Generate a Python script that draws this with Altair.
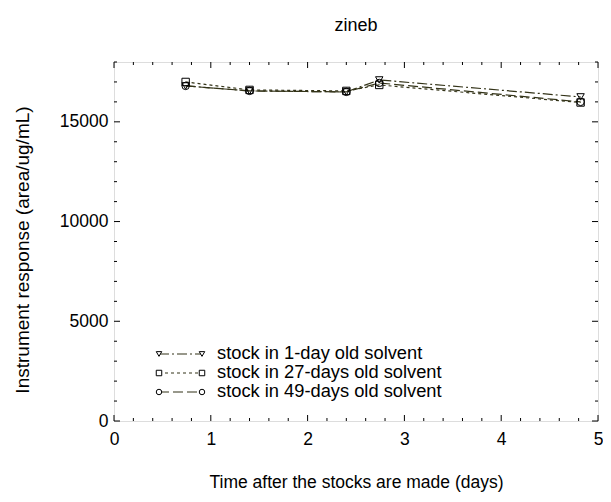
import altair as alt
import pandas as pd

# ---- data ----
days = [0.74, 1.40, 2.40, 2.74, 4.82]
series_names = ["stock in 1-day old solvent",
                "stock in 27-days old solvent",
                "stock in 49-days old solvent"]
resp_1day = [16800, 16550, 16500, 17100, 16250]
resp_27days = [17000, 16600, 16550, 16850, 15970]
resp_49days = [16800, 16550, 16500, 16950, 16000]

x_major = [0, 1, 2, 3, 4, 5]
y_major = [0, 5000, 10000, 15000]
title_text = ["zineb"]

# ---- layout / style ----
W, H = 484, 359
FONT = "Liberation Sans"
LINE_COLOR = "#333318"
dashes = {series_names[0]: [10, 3, 2, 3],
          series_names[1]: [3, 3],
          series_names[2]: [10, 4]}
shapes = {series_names[0]: "triangle-down",
          series_names[1]: "square",
          series_names[2]: "circle"}

rows = []
for name, vals in zip(series_names, [resp_1day, resp_27days, resp_49days]):
    for d, v in zip(days, vals):
        rows.append({"series": name, "day": d, "resp": v})
df = pd.DataFrame(rows)

xs = alt.Scale(domain=[0, 5], nice=False)
ys = alt.Scale(domain=[0, 18000], nice=False)

x_enc = alt.X("day:Q", scale=xs, axis=alt.Axis(
    values=x_major, format="d", ticks=False, domain=False, grid=False,
    labelFlush=False, labelOverlap=False,
    labelFont=FONT, labelFontSize=17.5, labelColor="black", labelPadding=9,
    title="Time after the stocks are made (days)", titleFont=FONT,
    titleFontSize=17.5, titleFontWeight="normal", titleColor="black",
    titleY=61, titleBaseline="middle"))
y_enc = alt.Y("resp:Q", scale=ys, axis=alt.Axis(
    values=y_major, format="d", ticks=False, domain=False, grid=False,
    labelFlush=False, labelOverlap=False,
    labelFont=FONT, labelFontSize=17.5, labelColor="black", labelPadding=6,
    title="Instrument response (area/ug/mL)", titleFont=FONT,
    titleFontSize=19, titleFontWeight="normal", titleColor="black",
    titleX=-92, titleY=H / 2 + 8, titleAngle=-90, titleBaseline="middle",
    titleAlign="center"))

sdash = alt.StrokeDash("series:N", scale=alt.Scale(
    domain=series_names, range=[dashes[n] for n in series_names]), legend=None)
sshape = alt.Shape("series:N", scale=alt.Scale(
    domain=series_names, range=[shapes[n] for n in series_names]), legend=None)

lines = alt.Chart(df).mark_line(color=LINE_COLOR, strokeWidth=1.2).encode(
    x=x_enc, y=y_enc, strokeDash=sdash, detail="series:N")
points = alt.Chart(df).mark_point(filled=False, color="black", size=55,
                                  strokeWidth=1, opacity=1).encode(
    x=alt.X("day:Q", scale=xs), y=alt.Y("resp:Q", scale=ys), shape=sshape)

# inward ticks on the frame
x_minor = [i / 5 for i in range(26) if i % 5 != 0]
y_minor = [i * 1000 for i in range(19) if i % 5 != 0]

def xticks(vals, length):
    d = pd.DataFrame({"t": vals})
    base = alt.Chart(d).mark_rule(color="black", strokeWidth=1)
    bot = base.encode(x=alt.X("t:Q", scale=xs), y=alt.value(H), y2=alt.value(H - length))
    top = base.encode(x=alt.X("t:Q", scale=xs), y=alt.value(0), y2=alt.value(length))
    return [bot, top]

def yticks(vals, length):
    d = pd.DataFrame({"t": vals})
    base = alt.Chart(d).mark_rule(color="black", strokeWidth=1)
    left = base.encode(y=alt.Y("t:Q", scale=ys), x=alt.value(0), x2=alt.value(length))
    right = base.encode(y=alt.Y("t:Q", scale=ys), x=alt.value(W), x2=alt.value(W - length))
    return [left, right]

tick_layers = xticks(x_major, 6) + xticks(x_minor, 3) + yticks(y_major, 6) + yticks(y_minor, 3)

# legend drawn inside the plot (lower left)
leg_layers = []
leg_x1, leg_x2, leg_tx = 45, 88, 103
leg_ys = [292, 311, 330]
for name, yy in zip(series_names, leg_ys):
    ld = pd.DataFrame({"label": [name]})
    leg_layers.append(alt.Chart(ld).mark_rule(color=LINE_COLOR, strokeWidth=1.2,
                                              strokeDash=dashes[name]).encode(
        x=alt.value(leg_x1), x2=alt.value(leg_x2), y=alt.value(yy)))
    for xx in (leg_x1, leg_x2):
        leg_layers.append(alt.Chart(ld).mark_point(
            filled=False, color="black", size=30, strokeWidth=1, opacity=1,
            shape=shapes[name], fill="white").encode(x=alt.value(xx), y=alt.value(yy)))
    leg_layers.append(alt.Chart(ld).mark_text(
        align="left", baseline="middle", font=FONT, fontSize=18.3, color="black").encode(
        x=alt.value(leg_tx), y=alt.value(yy), text="label:N"))

title_layer = alt.Chart(pd.DataFrame({"t": title_text})).mark_text(
    align="center", baseline="middle", font=FONT, fontSize=18, color="black").encode(
    x=alt.value(W / 2), y=alt.value(-36), text="t:N")

chart = alt.layer(lines, points, *tick_layers, *leg_layers, title_layer).properties(
    width=W, height=H,
    autosize=alt.AutoSizeParams(type="none"),
    padding={"left": 106, "top": 54, "right": 5, "bottom": 72},
).configure_view(stroke="black", strokeWidth=1.5).configure(background="white")

chart.save("out.html", embed_options={"renderer": "svg", "actions": False})
